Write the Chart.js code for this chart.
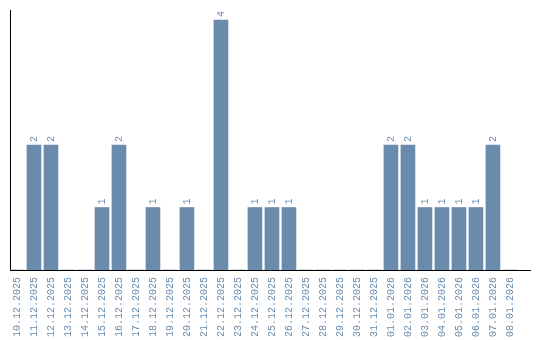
<!DOCTYPE html>
<html>
<head>
<meta charset="utf-8">
<script src="https://cdn.jsdelivr.net/npm/chart.js@4/dist/chart.umd.min.js"></script>
<style>
  html, body { margin: 0; padding: 0; background: #fff; }
  #wrap { width: 540px; height: 340px; }
</style>
</head>
<body>
<div id="wrap"><canvas id="canvas"></canvas></div>
<script>
const dates = [
  '10.12.2025', '11.12.2025', '12.12.2025', '13.12.2025', '14.12.2025',
  '15.12.2025', '16.12.2025', '17.12.2025', '18.12.2025', '19.12.2025',
  '20.12.2025', '21.12.2025', '22.12.2025', '23.12.2025', '24.12.2025',
  '25.12.2025', '26.12.2025', '27.12.2025', '28.12.2025', '29.12.2025',
  '30.12.2025', '31.12.2025', '01.01.2026', '02.01.2026', '03.01.2026',
  '04.01.2026', '05.01.2026', '06.01.2026', '07.01.2026', '08.01.2026'
]
const counts = [0, 2, 2, 0, 0, 1, 2, 0, 1, 0, 1, 0, 4, 0, 1, 1, 1, 0, 0, 0, 0, 0, 2, 2, 1, 1, 1, 1, 2, 0]

const blue = '#6a8bab'
const monoFont = { family: 'Liberation Mono', size: 10 }

// numbers above the bars, turned like the date labels
const valueLabels = {
  id: 'valueLabels',
  afterDatasetsDraw(chart) {
    const ctx = chart.ctx
    const meta = chart.getDatasetMeta(0)
    ctx.save()
    ctx.fillStyle = blue
    ctx.font = '10px "Liberation Mono"'
    ctx.textAlign = 'left'
    ctx.textBaseline = 'middle'
    meta.data.forEach((bar, i) => {
      if (!counts[i]) return
      ctx.save()
      ctx.translate(bar.x, bar.y - 3)
      ctx.rotate(-Math.PI / 2)
      ctx.fillText(String(counts[i]), 0, 0)
      ctx.restore()
    })
    ctx.restore()
  }
}

new Chart(document.getElementById('canvas'), {
  type: 'bar',
  data: {
    datasets: [{
      data: counts.map((c, i) => ({ x: i, y: c })),
      backgroundColor: blue,
      borderWidth: 0,
      barThickness: 14
    }]
  },
  options: {
    responsive: true,
    maintainAspectRatio: false,
    animation: false,
    layout: { padding: { left: 10, right: 10, top: 10, bottom: 0 } },
    plugins: { legend: { display: false }, tooltip: { enabled: false } },
    scales: {
      x: {
        type: 'linear',
        offset: false,
        min: -0.41,
        max: 30.18,
        grid: { display: false, drawTicks: false },
        border: { display: true, color: '#000', width: 1 },
        ticks: {
          stepSize: 1,
          includeBounds: false,
          autoSkip: false,
          maxRotation: 90,
          minRotation: 90,
          padding: 7,
          color: blue,
          font: monoFont,
          callback: (v) => dates[v] || ''
        },
        afterFit: (scale) => {
          scale.paddingLeft = 0
          scale.paddingRight = 0
          scale.height = 70
        }
      },
      y: {
        min: 0,
        max: 4.16,
        grid: { display: false, drawTicks: false },
        border: { display: true, color: '#000', width: 1 },
        ticks: { display: false },
        afterFit: (scale) => { scale.width = 0 }
      }
    }
  },
  plugins: [valueLabels]
})
</script>
</body>
</html>
